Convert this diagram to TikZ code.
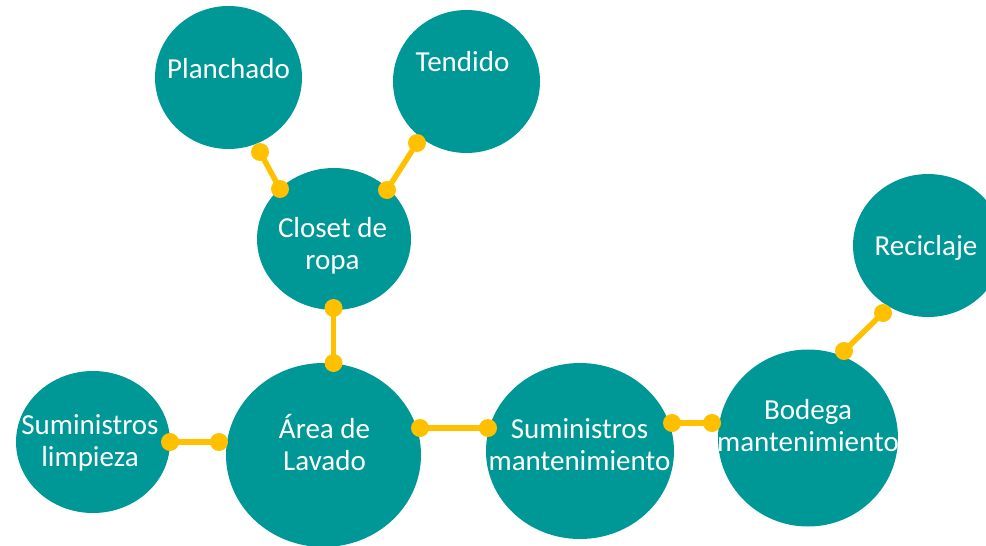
\documentclass[tikz,border=0pt]{standalone}
\usepackage{fontspec}
\setmainfont{Carlito}
\usetikzlibrary{shapes.geometric}
\definecolor{blobteal}{RGB}{0,152,150}
\definecolor{linkyel}{RGB}{255,192,0}
\newcommand\yconn[2]{\draw[link] (#1) -- (#2); \fill[linkyel] (#1) circle (9pt) (#2) circle (9pt);}
\begin{document}
\begin{tikzpicture}[x=1pt,y=-1pt,
  blob/.style={ellipse, fill=blobteal, draw=none, inner sep=0pt},
  lbl/.style={text=white, font=\fontsize{29}{32}\selectfont, align=center, inner sep=0pt},
  link/.style={draw=linkyel, line width=5.5pt}]
\useasboundingbox (0,0) rectangle (986,546);
\begin{scope}
\clip (0,0) rectangle (986,546);
% ellipses
\node[blob, minimum width=147pt, minimum height=143pt] (plan) at (228.5,77.5) {};
\node[blob, minimum width=147pt, minimum height=143pt] (tend) at (466.5,81.5) {};
\node[blob, minimum width=154pt, minimum height=142pt] (closet) at (334,239) {};
\node[blob, minimum width=154pt, minimum height=142pt] (limp) at (93,442) {};
\node[blob, minimum width=195pt, minimum height=184pt] (area) at (323.5,455) {};
\node[blob, minimum width=188pt, minimum height=176pt] (sumant) at (580,451) {};
\node[blob, minimum width=180pt, minimum height=177pt] (bodega) at (808,438) {};
\node[blob, minimum width=150pt, minimum height=143pt] (recic) at (928,245.5) {};
% connector end points on the node borders
\coordinate (plan-d) at (260,152);
\coordinate (closet-d1) at (280,189);
\coordinate (tend-d) at (417,143);
\coordinate (closet-d2) at (387,190);
\coordinate (closet-d3) at (333.5,308);
\coordinate (area-d1) at (333.5,363);
\coordinate (limp-d) at (170,442);
\coordinate (area-d2) at (219,442);
\coordinate (area-d3) at (420,428);
\coordinate (sumant-d1) at (488,428);
\coordinate (sumant-d2) at (672,423);
\coordinate (bodega-d1) at (712,423);
\coordinate (bodega-d2) at (844,351);
\coordinate (recic-d) at (883,313);
% connectors
\yconn{plan-d}{closet-d1}
\yconn{tend-d}{closet-d2}
\yconn{closet-d3}{area-d1}
\yconn{limp-d}{area-d2}
\yconn{area-d3}{sumant-d1}
\yconn{sumant-d2}{bodega-d1}
\yconn{bodega-d2}{recic-d}
% labels
\node[lbl] (plan-t) at (228.5,69) {Planchado};
\node[lbl] (tend-t) at (462.5,62) {Tendido};
\node[lbl] (closet-t) at (332.5,246) {Closet de\\ropa};
\node[lbl] (limp-t) at (90,443) {Suministros\\limpieza};
\node[lbl] (area-t) at (324.5,442) {Área de\\Lavado};
\node[lbl] (sumant-t) at (579.5,445) {Suministros\\mantenimiento};
\node[lbl] (bodega-t) at (808,426) {Bodega\\mantenimiento};
\node[lbl] (recic-t) at (926,248) {Reciclaje};
\end{scope}
\end{tikzpicture}
\end{document}
